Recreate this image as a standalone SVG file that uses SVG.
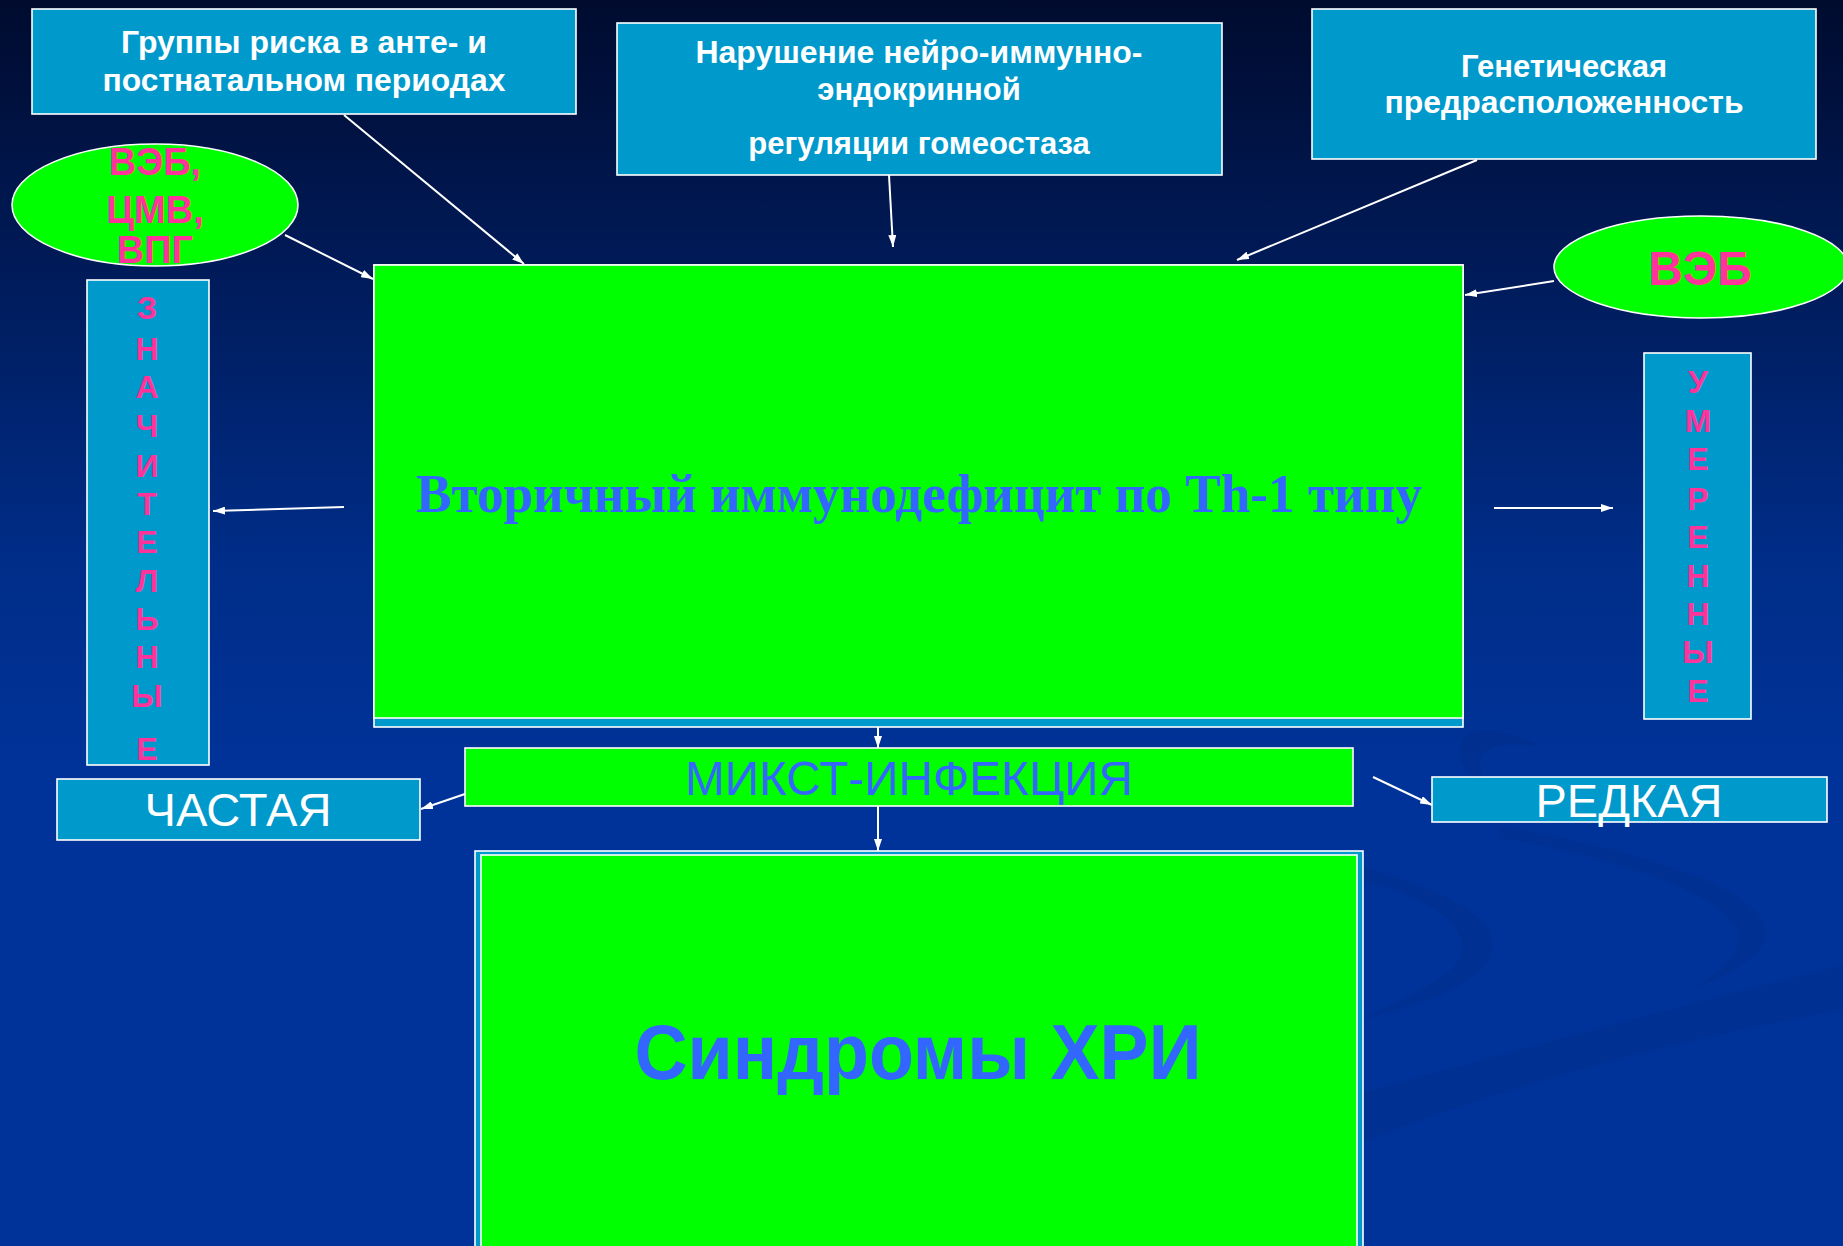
<svg xmlns="http://www.w3.org/2000/svg" width="1843" height="1246" viewBox="0 0 1843 1246">
<defs>
<linearGradient id="bg" x1="0" y1="0" x2="0" y2="1">
<stop offset="0" stop-color="#000B2E"/>
<stop offset="0.22" stop-color="#001B5A"/>
<stop offset="0.45" stop-color="#002D88"/>
<stop offset="0.62" stop-color="#003399"/>
<stop offset="1" stop-color="#003399"/>
</linearGradient>
<marker id="ah" viewBox="0 0 12 8" refX="12" refY="4" markerWidth="12" markerHeight="8" markerUnits="userSpaceOnUse" orient="auto">
<path d="M0,0 L12,4 L0,8 Z" fill="#FFFFFF"/>
</marker>
<style>
.box{fill:#0099CC;stroke:#FFFFFF;stroke-width:1.6}
.grn{fill:#00FF00;stroke:#FFFFFF;stroke-width:1.6}
.hdr{font-family:"Liberation Sans",Arial,sans-serif;font-weight:bold;font-size:31px;fill:#FFFFFF;text-anchor:middle}
.pink{font-family:"Liberation Sans",Arial,sans-serif;font-weight:bold;fill:#FF3399;text-anchor:middle}
.vert{font-size:32px}
.wht{font-family:"Liberation Sans",Arial,sans-serif;font-size:46px;fill:#FFFFFF;text-anchor:middle}
.blue{fill:#3366FF;text-anchor:middle}
.conn line{stroke:#FFFFFF;stroke-width:2;marker-end:url(#ah)}
</style>
</defs>
<rect x="0" y="0" width="1843" height="1246" fill="url(#bg)"/>
<g id="background-swooshes" fill="#002A80" opacity="0.3">
<path d="M1360,1093 C1520,1050 1700,1000 1843,965 L1843,1010 C1700,1035 1520,1080 1360,1143 Z"/>
<path d="M1360,867 C1450,890 1500,920 1492,950 C1485,985 1420,1005 1360,1020 C1410,995 1460,975 1462,950 C1465,920 1420,895 1360,880 Z"/>
<path d="M1500,826 C1640,850 1770,890 1766,935 C1762,965 1700,985 1680,995 C1720,975 1740,955 1738,935 C1735,900 1630,860 1500,838 Z"/>
<path d="M1540,745 C1500,730 1470,720 1460,745 C1455,770 1480,785 1500,795 C1480,780 1475,765 1485,752 C1495,742 1520,745 1540,745 Z"/>
</g>

<g id="node-risk-groups">
<rect class="box" x="32" y="9" width="544" height="105"/>
<text class="hdr" x="304" y="53" textLength="366" lengthAdjust="spacingAndGlyphs">Группы риска в анте- и</text>
<text class="hdr" x="304" y="91" textLength="403" lengthAdjust="spacingAndGlyphs">постнатальном периодах</text>
</g>

<g id="node-neuro">
<rect class="box" x="617" y="23" width="605" height="152"/>
<text class="hdr" x="919" y="63" textLength="447" lengthAdjust="spacingAndGlyphs">Нарушение нейро-иммунно-</text>
<text class="hdr" x="919" y="100">эндокринной</text>
<text class="hdr" x="919" y="154">регуляции гомеостаза</text>
</g>

<g id="node-genetic">
<rect class="box" x="1312" y="9" width="504" height="150"/>
<text class="hdr" x="1564" y="77">Генетическая</text>
<text class="hdr" x="1564" y="113" textLength="359" lengthAdjust="spacingAndGlyphs">предрасположенность</text>
</g>

<g id="node-viruses-left">
<ellipse cx="155" cy="205" rx="143" ry="61" fill="#00FF00" stroke="#FFFFFF" stroke-width="1.6"/>
<text class="pink" font-size="38" x="155" y="175">ВЭБ,</text>
<text class="pink" font-size="38" x="155" y="223">ЦМВ,</text>
<text class="pink" font-size="38" x="155" y="263">ВПГ</text>
</g>

<g id="node-veb-right">
<ellipse cx="1701" cy="267" rx="147" ry="51" fill="#00FF00" stroke="#FFFFFF" stroke-width="1.6"/>
<text class="pink" font-size="48" x="1700" y="285">ВЭБ</text>
</g>

<g id="node-main">
<rect class="box" x="374" y="265" width="1089" height="462"/>
<rect class="grn" x="374" y="265" width="1089" height="453"/>
<text class="blue" x="919" y="512" font-family="'Liberation Serif','Times New Roman',serif" font-weight="bold" font-size="54" textLength="1006" lengthAdjust="spacingAndGlyphs">Вторичный иммунодефицит по Th-1 типу</text>
</g>

<g id="node-significant">
<rect class="box" x="87" y="280" width="122" height="485"/>
<g class="pink vert">
<text x="147" y="319">З</text>
<text x="147" y="360">Н</text>
<text x="147" y="398">А</text>
<text x="147" y="437">Ч</text>
<text x="147" y="477">И</text>
<text x="147" y="515">Т</text>
<text x="147" y="553">Е</text>
<text x="147" y="592">Л</text>
<text x="147" y="630">Ь</text>
<text x="147" y="668">Н</text>
<text x="147" y="707">Ы</text>
<text x="147" y="760">Е</text>
</g>
</g>

<g id="node-moderate">
<rect class="box" x="1644" y="353" width="107" height="366"/>
<g class="pink vert">
<text x="1698" y="393">У</text>
<text x="1698" y="432">М</text>
<text x="1698" y="470">Е</text>
<text x="1698" y="510">Р</text>
<text x="1698" y="548">Е</text>
<text x="1698" y="587">Н</text>
<text x="1698" y="625">Н</text>
<text x="1698" y="663">Ы</text>
<text x="1698" y="702">Е</text>
</g>
</g>

<g id="node-mixed">
<rect class="grn" x="465" y="748" width="888" height="58"/>
<text class="blue" x="909" y="795" font-family="'Liberation Sans',Arial,sans-serif" font-size="49" textLength="448" lengthAdjust="spacingAndGlyphs">МИКСТ-ИНФЕКЦИЯ</text>
</g>

<g id="node-frequent">
<rect class="box" x="57" y="779" width="363" height="61"/>
<text class="wht" x="238" y="826" textLength="187" lengthAdjust="spacingAndGlyphs">ЧАСТАЯ</text>
</g>

<g id="node-rare">
<rect class="box" x="1432" y="777" width="395" height="45"/>
<text class="wht" x="1629" y="817" textLength="187" lengthAdjust="spacingAndGlyphs">РЕДКАЯ</text>
</g>

<g id="node-syndromes">
<rect class="box" x="475" y="851" width="888" height="420"/>
<rect class="grn" x="481" y="855" width="876" height="420"/>
<text class="blue" x="918" y="1079" font-family="'Liberation Sans',Arial,sans-serif" font-weight="bold" font-size="77" textLength="567" lengthAdjust="spacingAndGlyphs">Синдромы ХРИ</text>
</g>

<g id="connectors" class="conn">
<line x1="344" y1="115" x2="524" y2="264"/>
<line x1="285" y1="235" x2="373" y2="279"/>
<line x1="889" y1="175" x2="893" y2="247"/>
<line x1="1477" y1="160" x2="1237" y2="260"/>
<line x1="1554" y1="281" x2="1465" y2="295"/>
<line x1="344" y1="507" x2="213" y2="511"/>
<line x1="1494" y1="508" x2="1613" y2="508"/>
<line x1="878" y1="727" x2="878" y2="748"/>
<line x1="878" y1="806" x2="878" y2="851"/>
<line x1="465" y1="794" x2="421" y2="809"/>
<line x1="1373" y1="777" x2="1432" y2="805"/>
</g>
</svg>
